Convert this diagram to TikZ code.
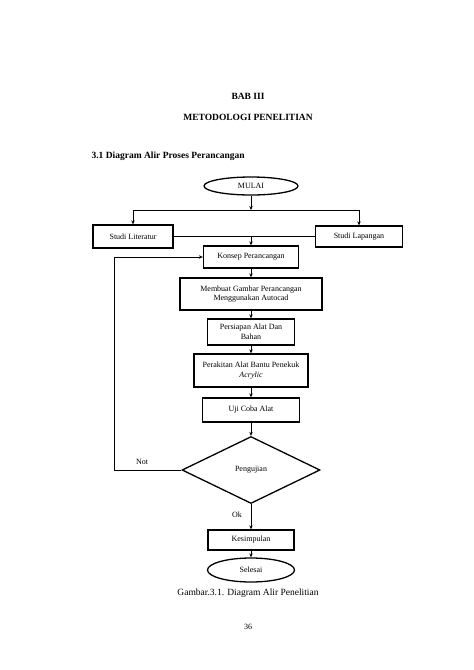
\documentclass[tikz,border=0pt]{standalone}
\usepackage{fontspec}
\setmainfont{Liberation Serif}
\usetikzlibrary{positioning,arrows.meta,shapes.geometric}

\begin{document}
\begin{tikzpicture}[x=1pt, y=-1pt, >={Stealth[length=4pt,width=3.5pt]},
  font=\fontsize{8}{9.5}\selectfont,
  proc/.style={rectangle, draw, line width=1.3pt, align=center, inner sep=1pt},
  term/.style={ellipse, draw, line width=1.3pt, inner sep=0pt},
  dec/.style={diamond, draw, line width=1.3pt, inner sep=0pt},
  flow/.style={->, line width=0.8pt},
  head/.style={font=\fontsize{9.5}{11}\selectfont\bfseries}]
\useasboundingbox (0,0) rectangle (474,670);
\node[head] (bab) at (248,96) {BAB III};
\node[head] (judul) at (248,117) {METODOLOGI PENELITIAN};
\node[head, anchor=west] (sub) at (88,156) {3.1 Diagram Alir Proses Perancangan};
% alur utama
\node[term, minimum width=94pt, minimum height=18pt] (mulai) at (251,186) {MULAI};
\node[proc, minimum width=80pt, minimum height=23pt] (lit) at (133,236.5) {Studi Literatur};
\node[proc, minimum width=87pt, minimum height=21pt] (lap) at (359,236.5) {Studi Lapangan};
\node[proc, minimum width=95pt, minimum height=22pt] (konsep) at (251,257) {Konsep Perancangan};
\node[proc, minimum width=142pt, minimum height=32pt] (gambar) at (251,294) {Membuat Gambar Perancangan\\Menggunakan Autocad};
\node[proc, minimum width=87pt, minimum height=26pt] (siap) at (251,332) {Persiapan Alat Dan\\Bahan};
\node[proc, minimum width=114pt, minimum height=33pt] (rakit) at (251,370.5) {Perakitan Alat Bantu Penekuk\\\textit{Acrylic}};
\node[proc, minimum width=97pt, minimum height=24pt] (uji) at (251,410) {Uji Coba Alat};
\node[dec, minimum width=138pt, minimum height=67pt] (tes) at (251,470) {Pengujian};
\node[proc, minimum width=86pt, minimum height=20pt] (simpul) at (251,540) {Kesimpulan};
\node[term, minimum width=87pt, minimum height=24pt] (selesai) at (251,570) {Selesai};
\node (not) at (142,462) {Not};
\node (ok) at (237,515) {Ok};
\node[font=\fontsize{9.5}{11}\selectfont] (cap) at (248,593) {Gambar.3.1. Diagram Alir Penelitian};
\node[font=\fontsize{8}{9}\selectfont] (hal) at (248,627) {36};
\coordinate (cabang) at (251,210);
\coordinate (balik) at (114,470);
% garis penghubung
\draw[flow] (mulai) -- (cabang);
\draw[line width=0.8pt] (lit.north |- cabang) -- (lap.north |- cabang);
\draw[flow] (lit.north |- cabang) -- (lit.north);
\draw[flow] (lap.north |- cabang) -- (lap.north);
\draw[line width=0.8pt] (lit.east) -- (lap.west);
\draw[flow] (konsep.north |- lit.east) -- (konsep.north);
\draw[flow] (konsep) -- (gambar);
\draw[flow] (gambar) -- (siap);
\draw[flow] (siap) -- (rakit);
\draw[flow] (rakit) -- (uji);
\draw[flow] (uji) -- (tes);
\draw[flow] (tes.west) -- (balik) |- (konsep.west);
\draw[flow] (tes) -- (simpul);
\draw[flow] (simpul) -- (selesai);
\end{tikzpicture}
\end{document}
